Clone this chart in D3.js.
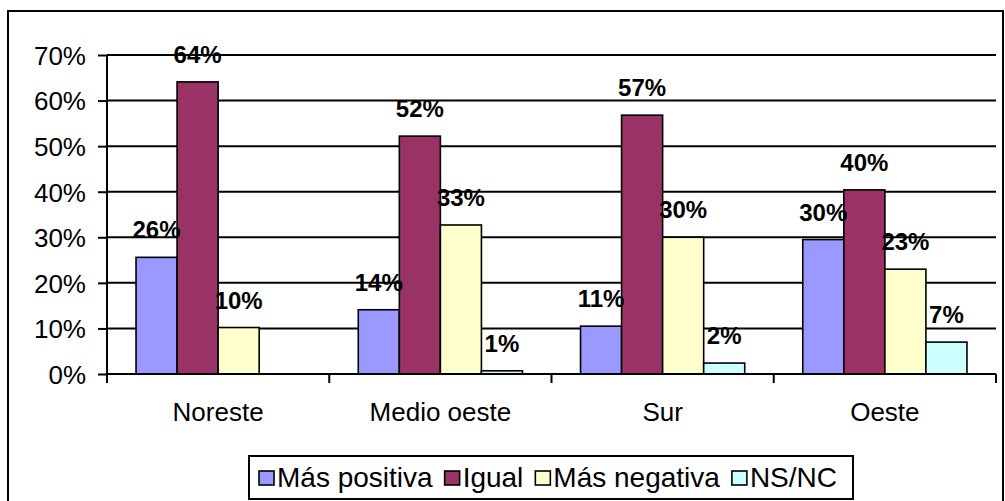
<!DOCTYPE html>
<html>
<head>
<meta charset="utf-8">
<script src="https://cdn.jsdelivr.net/npm/d3@7"></script>
<style>
  html, body { margin: 0; padding: 0; background: #fff; }
  svg { display: block; font-family: "Liberation Sans", Arial, sans-serif; }
</style>
</head>
<body>
<svg id="chart" width="1005" height="501"></svg>
<script>
// Regions and response shares
const regions = ["Noreste", "Medio oeste", "Sur", "Oeste"];
const seriesNames = ["Más positiva", "Igual", "Más negativa", "NS/NC"];
const masPositiva = [0.256, 0.141, 0.105, 0.295];
const igual = [0.641, 0.522, 0.568, 0.404];
const masNegativa = [0.102, 0.327, 0.300, 0.230];
const nsnc = [0.0, 0.007, 0.024, 0.070];
const seriesColors = ["#9999FF", "#993366", "#FFFFCC", "#CCFFFF"];
const yTicks = [0, 0.1, 0.2, 0.3, 0.4, 0.5, 0.6, 0.7];

const seriesValues = [masPositiva, igual, masNegativa, nsnc];
const rows = regions.map((r, i) => ({
  region: r,
  values: seriesNames.map((s, j) => ({ series: s, idx: j, value: seriesValues[j][i] }))
}));

const svg = d3.select("#chart");

// outer chart frame
svg.append("rect")
  .attr("x", 8).attr("y", 11)
  .attr("width", 995).attr("height", 500)
  .attr("fill", "#fff").attr("stroke", "#000").attr("stroke-width", 2);

const plot = { left: 107, right: 996, top: 55, bottom: 374 };

const x0 = d3.scaleBand().domain(regions).range([plot.left, plot.right]).paddingInner(0).paddingOuter(0);
const x1 = d3.scaleBand().domain(seriesNames).range([0, x0.bandwidth()]).paddingOuter(0.707).paddingInner(0);
const y = d3.scaleLinear().domain([0, 0.7]).range([plot.bottom, plot.top]);

// horizontal gridlines
svg.append("g").selectAll("line").data(yTicks.slice(1)).join("line")
  .attr("x1", plot.left).attr("x2", plot.right)
  .attr("y1", d => y(d)).attr("y2", d => y(d))
  .attr("stroke", "#000").attr("stroke-width", 2);

// bars
const groups = svg.append("g").selectAll("g").data(rows).join("g")
  .attr("transform", d => `translate(${x0(d.region)},0)`);

groups.selectAll("rect").data(d => d.values.filter(v => v.value > 0)).join("rect")
  .attr("x", d => x1(d.series))
  .attr("width", x1.bandwidth())
  .attr("y", d => y(d.value))
  .attr("height", d => y(0) - y(d.value))
  .attr("fill", d => seriesColors[d.idx])
  .attr("stroke", "#000").attr("stroke-width", 1.6);

// y axis
const yAxis = svg.append("g")
  .attr("transform", `translate(${plot.left},0)`)
  .call(d3.axisLeft(y).tickValues(yTicks).tickFormat(d3.format(".0%")).tickSize(9).tickPadding(12));
yAxis.select(".domain").attr("stroke", "#000").attr("stroke-width", 2).attr("d", `M0,${plot.top}V${plot.bottom}`);
yAxis.selectAll(".tick line").attr("stroke", "#000").attr("stroke-width", 2);
yAxis.selectAll(".tick text").attr("font-size", 26).attr("fill", "#000")
  .attr("font-family", "Liberation Sans, Arial, sans-serif").attr("dy", "0.36em");

// x axis: baseline with ticks at category boundaries
const xAxisG = svg.append("g");
xAxisG.append("line")
  .attr("x1", plot.left).attr("x2", plot.right)
  .attr("y1", plot.bottom).attr("y2", plot.bottom)
  .attr("stroke", "#000").attr("stroke-width", 2);
const boundaries = regions.map(r => x0(r)).concat([x0(regions[regions.length - 1]) + x0.bandwidth()]);
xAxisG.selectAll("line.tk").data(boundaries).join("line").attr("class", "tk")
  .attr("x1", d => d).attr("x2", d => d)
  .attr("y1", plot.bottom).attr("y2", plot.bottom + 9)
  .attr("stroke", "#000").attr("stroke-width", 2);
xAxisG.selectAll("text").data(regions).join("text")
  .attr("x", d => x0(d) + x0.bandwidth() / 2)
  .attr("y", 421)
  .attr("text-anchor", "middle")
  .attr("font-size", 26)
  .text(d => d);

// data labels
const fmt = d3.format(".0%");
groups.selectAll("text").data(d => d.values.filter(v => v.value > 0)).join("text")
  .attr("x", d => x1(d.series) + x1.bandwidth() / 2)
  .attr("y", d => y(d.value) - 19)
  .attr("text-anchor", "middle")
  .attr("font-size", 24)
  .attr("font-weight", "bold")
  .text(d => fmt(d.value));

// legend
const legend = svg.append("g");
legend.append("rect")
  .attr("x", 249).attr("y", 456).attr("width", 604).attr("height", 43)
  .attr("fill", "#fff").attr("stroke", "#000").attr("stroke-width", 2);
const items = legend.selectAll("g").data(seriesNames).join("g");
items.append("rect")
  .attr("width", 15).attr("height", 14)
  .attr("y", 471)
  .attr("fill", (d, i) => seriesColors[i])
  .attr("stroke", "#000").attr("stroke-width", 1.6);
items.append("text")
  .attr("y", 487)
  .attr("font-size", 28)
  .text(d => d);
let cx = 259;
items.each(function () {
  const g = d3.select(this);
  g.select("rect").attr("x", cx);
  g.select("text").attr("x", cx + 18);
  cx += 18 + g.select("text").node().getComputedTextLength() + 12;
});
</script>
</body>
</html>
